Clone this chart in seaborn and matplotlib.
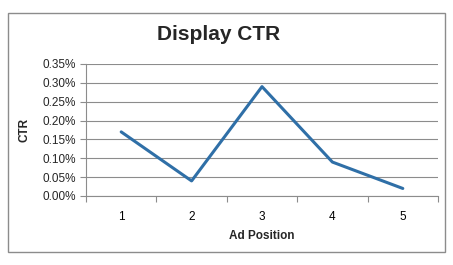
import matplotlib
matplotlib.use("Agg")
import matplotlib.pyplot as plt
import seaborn as sns
import pandas as pd
from matplotlib.ticker import FuncFormatter, FixedLocator
from matplotlib.patches import Rectangle

positions = [1, 2, 3, 4, 5]
ctr = [0.0017, 0.0004, 0.0029, 0.0009, 0.0002]
tick_labels = ["1", "2", "3", "4", "5"]

sns.set_theme(style="white")
plt.rcParams['font.family'] = ['Liberation Sans', 'DejaVu Sans']

df = pd.DataFrame({"Ad Position": positions, "CTR": ctr})

fig = plt.figure(figsize=(4.53, 2.65), dpi=100)
ax = fig.add_axes([86/453, 1-196/265, (438-86)/453, (196-64)/265])

sns.lineplot(data=df, x="Ad Position", y="CTR", ax=ax, color="#2F6FA7", linewidth=2.2)

ax.set_xlim(0.5, 5.5)
ax.set_ylim(0, 0.0035)
ax.set_yticks([i * 0.0005 for i in range(8)])
ax.yaxis.set_major_formatter(FuncFormatter(lambda v, p: f"{v*100:.2f}%"))
ax.set_xticks(positions)
ax.set_xticklabels(tick_labels)
ax.xaxis.set_minor_locator(FixedLocator([0.5, 1.5, 2.5, 3.5, 4.5, 5.5]))
ax.grid(axis="y", color="#8C8C8C", linewidth=0.8)
ax.set_axisbelow(True)

for s in ["top", "right"]:
    ax.spines[s].set_visible(False)
ax.spines["left"].set_color("#8C8C8C")
ax.spines["bottom"].set_color("#8C8C8C")
ax.spines["left"].set_linewidth(0.8)
ax.spines["bottom"].set_linewidth(0.8)

ax.tick_params(axis="x", which="major", length=0, pad=11, labelsize=8.5, colors="black")
ax.tick_params(axis="x", which="minor", length=4, color="#8C8C8C", bottom=True, width=0.8)
ax.tick_params(axis="y", which="major", length=4, color="#8C8C8C", left=True, width=0.8, labelsize=8.5, pad=3)

ax.set_xlabel("Ad Position", fontsize=8.5, fontweight="bold", labelpad=5)
ax.set_ylabel("CTR", fontsize=8.5, fontweight="bold", labelpad=9)

fig.text(219/453, 1-35/265, "Display CTR", fontsize=15, fontweight="bold", ha="center", va="center")

fig.patches.append(Rectangle((8/453, 1-252/265), (445-8)/453, (252-13)/265,
                             transform=fig.transFigure, fill=False, edgecolor="#8C8C8C", linewidth=1))

fig.savefig("out.png", dpi=100)
